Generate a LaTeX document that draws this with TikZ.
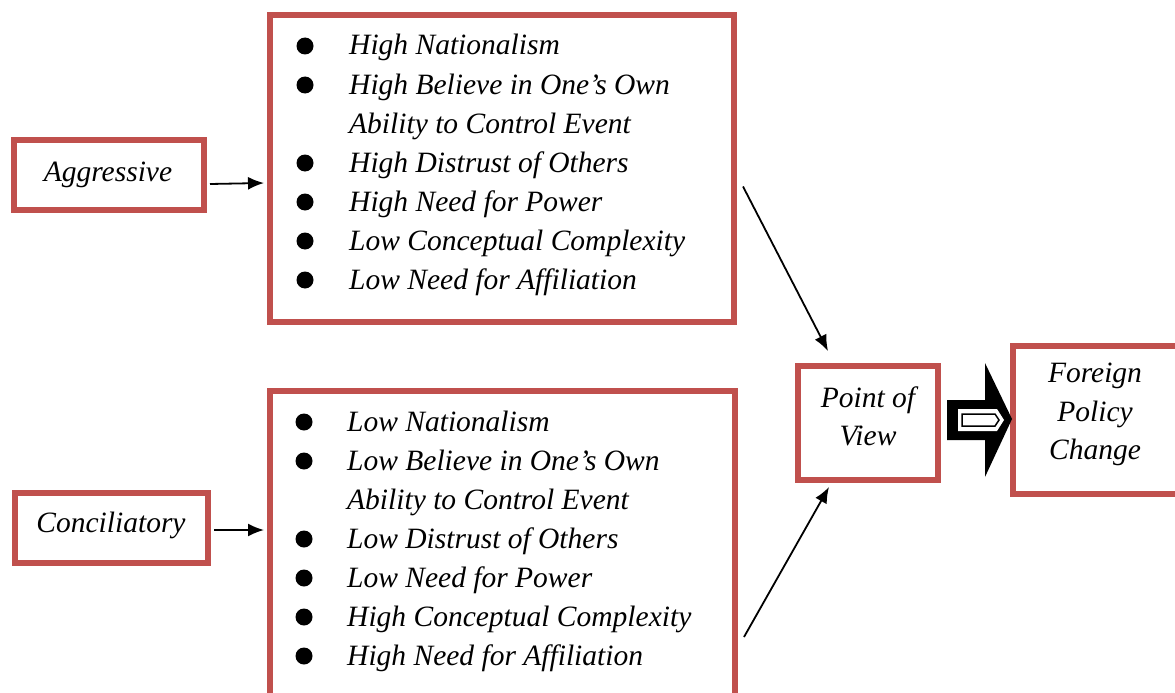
\documentclass[tikz,border=0pt]{standalone}
\usepackage{fontspec}
\setmainfont{Liberation Serif}
\usetikzlibrary{arrows.meta}
\definecolor{boxred}{RGB}{192,80,77}
\begin{document}
\begin{tikzpicture}[x=1pt,y=-1pt,
  redbox/.style={draw=boxred,line width=6pt,fill=white,inner sep=0pt},
  lbl/.style={font=\fontsize{29.5}{39}\selectfont\itshape,anchor=base,inner sep=0pt},
  item/.style={font=\fontsize{29.5}{39}\selectfont\itshape,anchor=base west,inner sep=0pt},
  bul/.style={circle,fill=black,minimum size=17pt,inner sep=0pt},
  arr/.style={line width=1.8pt,-{Latex[length=16pt,width=13pt]}}]
\useasboundingbox (0,0) rectangle (1175,693);
\clip (0,0) rectangle (1175,693);
% boxes
\node[redbox,minimum width=190pt,minimum height=70pt] (agg) at (109,175) {};
\node[lbl] (aggt) at (108,181) {Aggressive};
\node[redbox,minimum width=193pt,minimum height=70pt] (con) at (111.5,528) {};
\node[lbl] (cont) at (111,532) {Conciliatory};
\node[redbox,minimum width=464pt,minimum height=307pt] (top) at (502,168.5) {};
\node[redbox,minimum width=465pt,minimum height=320pt] (bot) at (502.5,551) {};
\node[redbox,minimum width=140pt,minimum height=114pt] (pov) at (868,423) {};
\node[lbl] (povt1) at (868,407) {Point of};
\node[lbl] (povt2) at (868,445) {View};
\node[redbox,minimum width=200pt,minimum height=148pt] (fpc) at (1113,420) {};
\node[lbl] (fpct1) at (1095,382) {Foreign};
\node[lbl] (fpct2) at (1095,421) {Policy};
\node[lbl] (fpct3) at (1095,459) {Change};
% top list
\foreach \t/\y/\b [count=\i] in {High Nationalism/55/1,
  High Believe in One’s Own/94/1,
  Ability to Control Event/133/0,
  High Distrust of Others/172/1,
  High Need for Power/211/1,
  Low Conceptual Complexity/250/1,
  Low Need for Affiliation/289/1}{
  \node[item] (ta\i) at (349,\y) {\t};
  \ifnum\b=1 \node[bul] (tb\i) at (305,\y-9) {};\fi
}
% bottom list
\foreach \t/\y/\b [count=\i] in {Low Nationalism/431/1,
  Low Believe in One’s Own/470/1,
  Ability to Control Event/509/0,
  Low Distrust of Others/548/1,
  Low Need for Power/587/1,
  High Conceptual Complexity/626/1,
  High Need for Affiliation/665/1}{
  \node[item] (ba\i) at (347,\y) {\t};
  \ifnum\b=1 \node[bul] (bb\i) at (304,\y-9) {};\fi
}
% connectors
\draw[arr] ([shift={(3,9)}]agg.east) -- ([shift={(-3,14.5)}]top.west);
\draw[arr] ([shift={(3,2)}]con.east) -- ([shift={(-3,-21)}]bot.west);
\draw[arr] ([shift={(6,18)}]top.east) -- ([shift={(-40,-12)}]pov.north);
\draw[arr] ([shift={(6,86)}]bot.east) -- ([shift={(-39,4)}]pov.south);
% block arrow
\fill[black] (947,400) -- (985,400) -- (985,363) -- (1012,419) -- (985,477) -- (985,440) -- (947,440) -- cycle;
\fill[white] (958,409) -- (997,409) -- (1004,420) -- (997,431) -- (958,431) -- cycle;
\draw[black,line width=1.5pt] (962,414) -- (995,414) -- (999,420) -- (995,426) -- (962,426) -- cycle;
\end{tikzpicture}
\end{document}
